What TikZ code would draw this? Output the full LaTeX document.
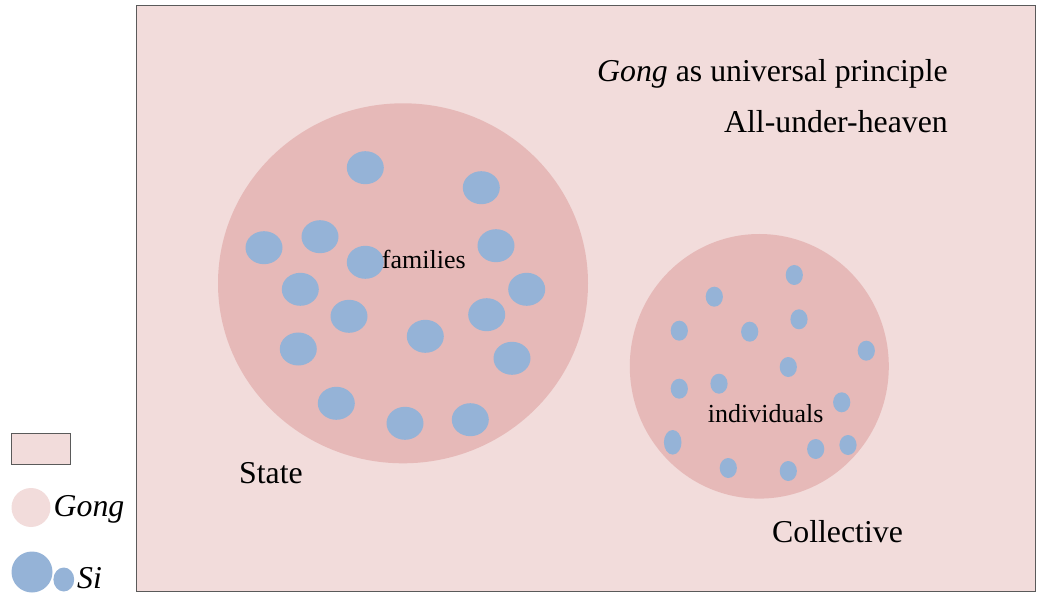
\documentclass[tikz,border=0pt]{standalone}
\usepackage{fontspec}
\setmainfont{Liberation Serif}
\definecolor{gongbg}{HTML}{F2DCDB}
\definecolor{gongin}{HTML}{E6B9B8}
\definecolor{siblue}{HTML}{95B3D7}
\definecolor{framec}{HTML}{5A5A5A}
\tikzset{
  lbl/.style={inner sep=0pt, font=\fontsize{31.8}{36}\selectfont},
  slbl/.style={inner sep=0pt, font=\fontsize{26}{30}\selectfont},
}
\begin{document}
\begin{tikzpicture}[x=1pt,y=-1pt]
\useasboundingbox (0,0) rectangle (1037,596);
% main frame
\draw[framec, line width=1.3pt, fill=gongbg] (136.5,5.5) rectangle (1035.5,591.5);
% State circle
\fill[gongin] (403,283.3) ellipse [x radius=185, y radius=180];
% Collective circle
\fill[gongin] (759.3,366.3) ellipse [x radius=129.5, y radius=132.3];
% families (large dots)
\foreach \x/\y in {365.3/167.7, 481.3/187.7, 264/247.7, 320/236.7, 365.3/262.3,
  496/245.7, 300.3/289.3, 526.7/289.3, 349/316.3, 486.7/314.7, 425.3/336.3,
  298.3/349, 512/358.3, 336.3/403.3, 405/423.3, 470.3/419.7}
  \fill[siblue] (\x,\y) ellipse [x radius=18.5, y radius=16.5];
% individuals (small dots)
\foreach \x/\y in {794.3/275, 714.3/296.7, 679.3/330.7, 749.7/331.7, 799/319.3,
  866.3/350.7, 788.3/367, 679.3/388.7, 719/383.7, 841.7/402.3,
  815.7/449, 848/445, 728.3/468, 788.3/471}
  \fill[siblue] (\x,\y) ellipse [x radius=8.6, y radius=10];
\fill[siblue] (672.7,442.3) ellipse [x radius=8.8, y radius=12.3];
% texts
\node[lbl, anchor=base east] (t1) at (948,81.5) {\textit{Gong} as universal principle};
\node[lbl, anchor=base east] (t2) at (948,133) {All-under-heaven};
\node[slbl, anchor=base west] (fam) at (381.7,269) {families};
\node[slbl, anchor=base west] (ind) at (707.7,422.7) {individuals};
\node[lbl, anchor=base west] (st) at (239,483.5) {State};
\node[lbl, anchor=base west] (co) at (772,542.5) {Collective};
% legend
\draw[framec, line width=1pt, fill=gongbg] (11.7,433.3) rectangle (70,464);
\fill[gongbg] (31,507.5) circle [radius=19.5];
\node[lbl, anchor=base west] (lg) at (53.5,516.7) {\textit{Gong}};
\fill[siblue] (32,572) circle [radius=20.5];
\fill[siblue] (63.8,579.5) ellipse [x radius=10.4, y radius=12];
\node[lbl, anchor=base west] (ls) at (77,588) {\textit{Si}};
\end{tikzpicture}
\end{document}
